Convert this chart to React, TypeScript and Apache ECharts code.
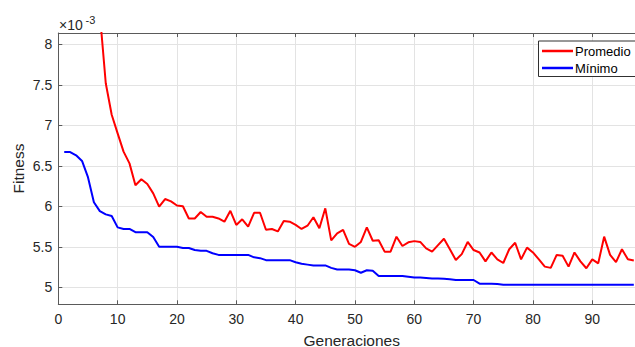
import React, { useEffect, useRef } from "react";
import * as echarts from "echarts";

// Fitness values in units of 1e-3, generation 1..N
const promedio: number[] = [
  14.5, 12.6, 11.2, 10.1, 9.3, 8.8, 8.38, 7.52, 7.13, 6.9,
  6.675, 6.53, 6.26, 6.335, 6.275, 6.16, 5.995, 6.09, 6.06, 6.01,
  6.0, 5.85, 5.85, 5.93, 5.87, 5.87, 5.85, 5.81, 5.945, 5.77,
  5.84, 5.75, 5.92, 5.92, 5.71, 5.72, 5.69, 5.82, 5.81, 5.77,
  5.72, 5.76, 5.865, 5.73, 5.975, 5.58, 5.667, 5.71, 5.535, 5.5,
  5.56, 5.74, 5.575, 5.58, 5.44, 5.44, 5.625, 5.51, 5.555, 5.57,
  5.56, 5.48, 5.44, 5.52, 5.6, 5.47, 5.337, 5.41, 5.56, 5.46,
  5.43, 5.32, 5.43, 5.345, 5.3, 5.47, 5.55, 5.345, 5.49, 5.43,
  5.345, 5.255, 5.24, 5.4, 5.39, 5.255, 5.43, 5.32, 5.235, 5.345,
  5.295, 5.625, 5.4, 5.31, 5.47, 5.345, 5.33,
];

const minimo: number[] = [
  6.67, 6.67, 6.63, 6.56, 6.36, 6.05, 5.94, 5.9, 5.88, 5.74,
  5.72, 5.72, 5.68, 5.68, 5.68, 5.62, 5.5, 5.5, 5.5, 5.5,
  5.485, 5.485, 5.46, 5.45, 5.45, 5.42, 5.4, 5.4, 5.4, 5.4,
  5.4, 5.4, 5.37, 5.36, 5.335, 5.335, 5.335, 5.335, 5.335, 5.31,
  5.29, 5.28, 5.27, 5.27, 5.27, 5.24, 5.22, 5.22, 5.22, 5.21,
  5.18, 5.21, 5.205, 5.14, 5.14, 5.14, 5.14, 5.14, 5.13, 5.12,
  5.12, 5.115, 5.11, 5.11, 5.105, 5.1, 5.09, 5.09, 5.09, 5.09,
  5.045, 5.045, 5.045, 5.04, 5.03, 5.03, 5.03, 5.03, 5.03, 5.03,
  5.03, 5.03, 5.03, 5.03, 5.03, 5.03, 5.03, 5.03, 5.03, 5.03,
  5.03, 5.03, 5.03, 5.03, 5.03, 5.03, 5.03,
];

const seriesNames = ["Promedio", "Mínimo"];
const xTitle = "Generaciones";
const yTitle = "Fitness";
const exponentBase = "×10";
const exponentPower = "-3";

const FONT = '"Liberation Sans", Arial, Helvetica, sans-serif';

export default function App() {
  const ref = useRef<HTMLDivElement>(null);
  useEffect(() => {
    if (!ref.current) return;
    const chart = echarts.init(ref.current, null, { renderer: "svg" });
    const toPairs = (vals: number[]) => vals.map((v, i) => [i + 1, v]);
    const axisColor = "#5a5a5a";
    const gridColor = "#e3e3e3";
    chart.setOption({
      animation: false,
      backgroundColor: "#ffffff",
      grid: { left: 58.3, top: 33, right: 0, bottom: 42.7, containLabel: false },
      xAxis: [
        {
          type: "value",
          min: 0,
          max: 97.2,
          interval: 10,
          axisLine: { show: true, onZero: false, lineStyle: { color: axisColor, width: 1 } },
          axisTick: { show: true, inside: true, length: 4, lineStyle: { color: axisColor } },
          axisLabel: {
            show: true,
            showMaxLabel: false,
            color: "#262626",
            fontSize: 14,
            fontFamily: FONT,
            margin: 8,
            formatter: (v: number) => (Math.abs(v % 10) < 1e-9 ? String(v) : ""),
          },
          splitLine: { show: true, lineStyle: { color: gridColor, width: 1 } },
        },
        {
          type: "value",
          position: "top",
          min: 0,
          max: 97.2,
          interval: 10,
          axisLine: { show: true, onZero: false, lineStyle: { color: axisColor, width: 1 } },
          axisTick: { show: true, inside: true, length: 4, lineStyle: { color: axisColor } },
          axisLabel: { show: false },
          splitLine: { show: false },
        },
      ],
      yAxis: {
        type: "value",
        min: 4.79,
        max: 8.14,
        splitNumber: 7,
        axisLine: { show: true, onZero: false, lineStyle: { color: axisColor, width: 1 } },
        axisTick: { show: true, inside: true, length: 4, lineStyle: { color: axisColor } },
        axisLabel: {
          showMinLabel: false,
          showMaxLabel: false,
          color: "#262626",
          fontSize: 14,
          fontFamily: FONT,
          margin: 6,
          formatter: (v: number) => (Math.abs((v * 2) - Math.round(v * 2)) < 1e-6 ? String(v) : ""),
        },
        splitLine: { show: true, lineStyle: { color: gridColor, width: 1 } },
      },
      legend: {
        orient: "vertical",
        left: 538.5,
        top: 41,
        icon: "rect",
        itemWidth: 31,
        itemHeight: 2.5,
        itemGap: 4,
        padding: [3.5, 24, 2, 3.5],
        borderColor: "#303030",
        borderWidth: 1,
        backgroundColor: "#ffffff",
        textStyle: { fontSize: 13, fontFamily: FONT, color: "#000000", padding: [0, 0, 0, -3] },
        data: seriesNames,
      },
      series: [
        {
          name: seriesNames[0],
          type: "line",
          data: toPairs(promedio),
          showSymbol: false,
          symbol: "none",
          clip: true,
          color: "#ff0000",
          lineStyle: { color: "#ff0000", width: 2 },
          z: 3,
        },
        {
          name: seriesNames[1],
          type: "line",
          data: toPairs(minimo),
          showSymbol: false,
          symbol: "none",
          clip: true,
          color: "#0000ff",
          lineStyle: { color: "#0000ff", width: 2 },
          z: 3,
        },
      ],
      graphic: [
        {
          type: "text",
          x: 351.7,
          y: 340,
          style: {
            text: xTitle,
            fontSize: 15.5,
            fontFamily: FONT,
            fill: "#262626",
            align: "center",
            verticalAlign: "middle",
          },
        },
        {
          type: "text",
          x: 18.7,
          y: 168.5,
          rotation: Math.PI / 2,
          style: {
            text: yTitle,
            fontSize: 15.5,
            fontFamily: FONT,
            fill: "#262626",
            align: "center",
            verticalAlign: "middle",
          },
        },
        {
          type: "text",
          x: 59,
          y: 24.5,
          style: {
            text: exponentBase,
            fontSize: 14,
            fontFamily: FONT,
            fill: "#262626",
            align: "left",
            verticalAlign: "middle",
          },
        },
        {
          type: "text",
          x: 85.5,
          y: 19.5,
          style: {
            text: exponentPower,
            fontSize: 11,
            fontFamily: FONT,
            fill: "#262626",
            align: "left",
            verticalAlign: "middle",
          },
        },
      ],
    });
    return () => chart.dispose();
  }, []);
  return (
    <div
      ref={ref}
      style={{ position: "fixed", left: 0, top: 0, width: 635, height: 347, background: "#fff" }}
    />
  );
}
